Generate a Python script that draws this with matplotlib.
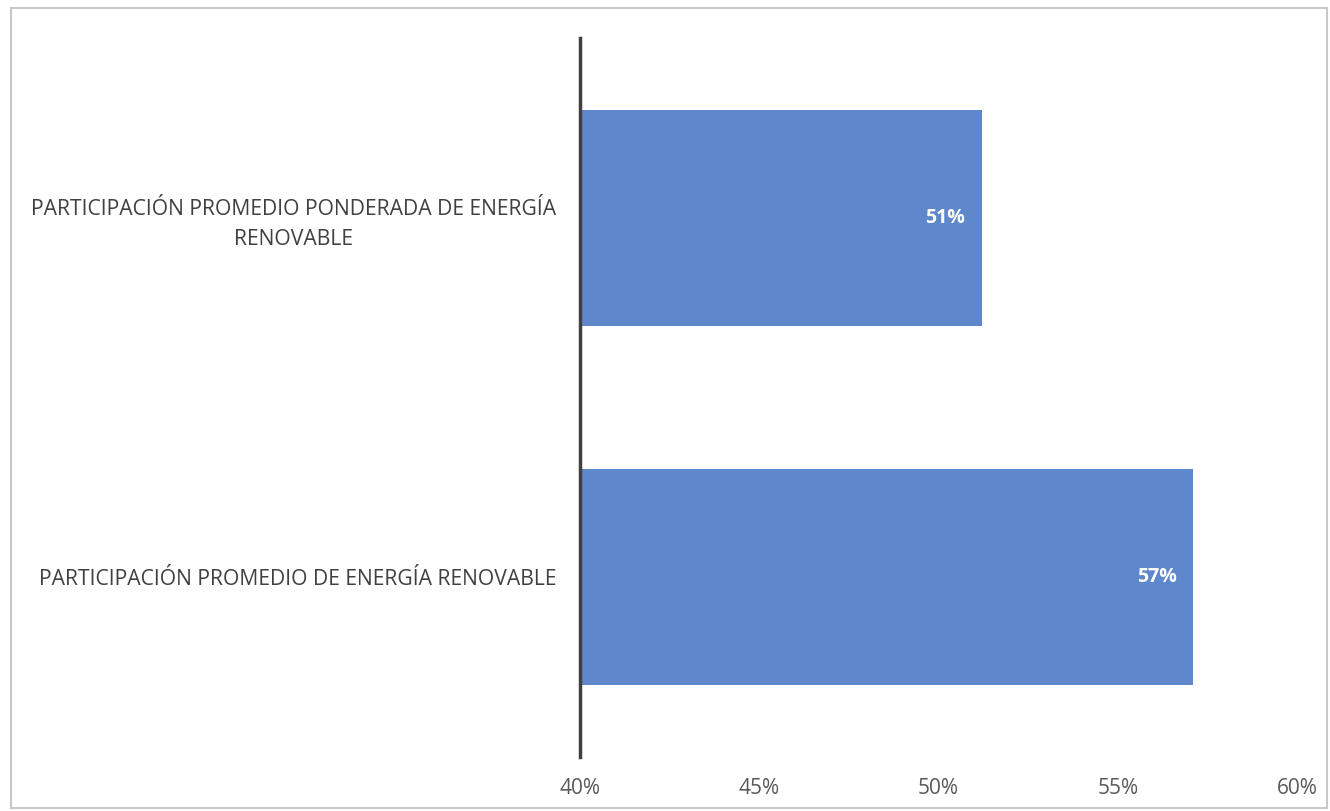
import matplotlib.pyplot as plt
from matplotlib.patches import Rectangle
from matplotlib.ticker import FuncFormatter

categories = ["PARTICIPACIÓN PROMEDIO DE ENERGÍA RENOVABLE",
              "PARTICIPACIÓN PROMEDIO PONDERADA DE ENERGÍA\nRENOVABLE"]
values = [0.571, 0.512]
value_labels = ["57%", "51%"]
x_ticks = [0.40, 0.45, 0.50, 0.55, 0.60]

plt.rcParams['font.family'] = ['Open Sans', 'DejaVu Sans']

fig = plt.figure(figsize=(13.3, 8.11), dpi=100)
fig.patches.append(Rectangle((11 / 1330, 3 / 811), 1316 / 1330, 800 / 811,
                             transform=fig.transFigure, fill=False,
                             edgecolor='#c8c8c8', linewidth=1.5))
ax = fig.add_axes([580 / 1330, 54 / 811, 717 / 1330, 719 / 811])

pos = list(range(len(categories)))
bars = ax.barh(pos, values, height=0.6, left=0, color='#5f87cb')
ax.set_xlim(0.40, 0.60)
ax.set_ylim(-0.5, 1.5)
ax.set_xticks(x_ticks)
ax.xaxis.set_major_formatter(FuncFormatter(lambda v, p: f"{v * 100:.0f}%"))
ax.set_yticks(pos)
ax.set_yticklabels(categories, multialignment='center', linespacing=1.55)

for s in ['top', 'right', 'bottom']:
    ax.spines[s].set_visible(False)
ax.spines['left'].set_color('#404040')
ax.spines['left'].set_linewidth(2.5)
ax.tick_params(axis='x', length=0, labelsize=15, colors='#595959', pad=15)
ax.tick_params(axis='y', length=0, labelsize=15.2, colors='#404040', pad=17)

for b, lab in zip(bars, value_labels):
    ax.text(b.get_width() - 0.0045, b.get_y() + b.get_height() / 2, lab,
            ha='right', va='center', color='white', fontsize=14,
            fontweight='bold')

fig.savefig('out.png', dpi=100)
